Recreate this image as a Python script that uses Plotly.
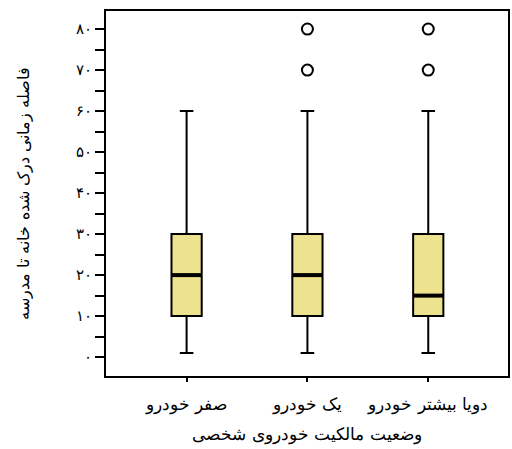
import plotly.graph_objects as go

# Car ownership groups and perceived home-to-school travel time (box statistics)
categories = ["صفر خودرو", "یک خودرو", "دویا بیشتر خودرو"]
lower_whisker = [1, 1, 1]
q1 = [10, 10, 10]
median = [20, 20, 15]
q3 = [30, 30, 30]
upper_whisker = [60, 60, 60]
outliers = [[], [70, 80], [70, 80]]

y_ticks = [0, 10, 20, 30, 40, 50, 60, 70, 80]
y_tick_labels = ["۰", "۱۰", "۲۰", "۳۰", "۴۰", "۵۰", "۶۰", "۷۰", "۸۰"]

x_title = "وضعیت مالکیت خودروی شخصی"
y_title = "فاصله زمانی درک شده خانه تا مدرسه"

FONT = "DejaVu Serif, Times New Roman, serif"
FILL = "#EDE38F"
BOX_W = 0.25
positions = list(range(len(categories)))

fig = go.Figure()
for i, name in enumerate(categories):
    fig.add_trace(go.Box(
        x=[positions[i]],
        q1=[q1[i]], median=[median[i]], q3=[q3[i]],
        lowerfence=[lower_whisker[i]], upperfence=[upper_whisker[i]],
        width=BOX_W, whiskerwidth=0.45,
        fillcolor=FILL, line=dict(color="black", width=2),
        boxpoints=False, showlegend=False, hoverinfo="skip",
    ))
    # thicker median bar
    fig.add_trace(go.Scatter(
        x=[positions[i] - BOX_W / 2, positions[i] + BOX_W / 2],
        y=[median[i], median[i]],
        mode="lines", line=dict(color="black", width=4),
        showlegend=False, hoverinfo="skip",
    ))
    if outliers[i]:
        fig.add_trace(go.Scatter(
            x=[positions[i]] * len(outliers[i]), y=outliers[i],
            mode="markers",
            marker=dict(symbol="circle-open", size=11, color="black",
                        line=dict(width=2, color="black")),
            showlegend=False, hoverinfo="skip",
        ))

fig.update_layout(
    width=512, height=449,
    margin=dict(l=106, r=2, t=11, b=73),
    paper_bgcolor="white", plot_bgcolor="white",
    font=dict(family=FONT, size=16, color="black"),
)
fig.update_xaxes(
    range=[-0.667, 2.66],
    tickvals=positions, ticktext=categories,
    ticks="outside", ticklen=4, tickwidth=2, tickcolor="black",
    ticklabelstandoff=8,
    showline=True, linecolor="black", linewidth=2, mirror=True,
    showgrid=False, zeroline=False,
    tickfont=dict(size=17, family=FONT),
    title=dict(text=x_title, font=dict(size=17, family=FONT), standoff=14),
)
fig.update_yaxes(
    range=[-4.6, 84.4],
    tickvals=y_ticks, ticktext=y_tick_labels,
    ticks="outside", ticklen=9, tickwidth=2, tickcolor="black",
    minor=dict(dtick=5, tick0=0, ticks="outside", ticklen=9, tickwidth=2, tickcolor="black"),
    showline=True, linecolor="black", linewidth=2, mirror=True,
    showgrid=False, zeroline=False,
    tickfont=dict(size=15, family=FONT),
    title=dict(text=y_title, font=dict(size=16, family=FONT), standoff=42),
)

fig.write_html("out.html")
